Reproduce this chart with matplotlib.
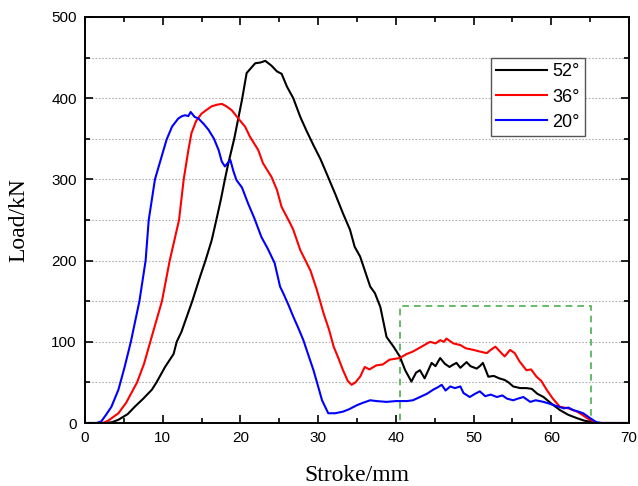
import numpy as np
import matplotlib.pyplot as plt
from matplotlib.patches import Rectangle
from matplotlib.ticker import MultipleLocator

# Load-stroke curves (stroke in mm, load in kN)
x52 = [0, 2.5, 3.5, 4.3, 5.5, 6.4, 7.5, 8.6, 9.2, 10.3, 11.4, 11.8, 12.4, 13.8, 14.8, 15.5, 16.3,
       16.9, 17.5, 18.0, 18.4, 19.2, 20.2, 20.8, 21.9, 22.6, 23.2, 24.0, 24.7, 25.3, 26.0, 26.8, 27.7,
       28.5, 29.4, 30.3, 31.1, 32.2, 33.2, 34.1, 34.7, 35.4, 36.7, 37.3, 38.0, 38.8, 39.7,
       40.5, 41.2, 42.0, 42.6, 43.1, 43.7, 44.6, 45.1, 45.7, 46.3, 46.9, 47.4, 47.8, 48.3,
       49.1, 49.6, 50.4, 50.8, 51.2, 51.9, 52.6, 53.3, 54.0, 54.5, 55.1, 56.0, 56.8, 57.5,
       58.2, 59.0, 60.0, 61.1, 62.2, 63.3, 64.2, 65.0, 65.8, 70]
y52 = [0, 0, 1, 4, 11, 20, 30, 41, 50, 69, 85, 100, 112, 150, 180, 200, 225,
       250, 276, 300, 318, 350, 398, 431, 443, 444, 446, 440, 433, 430, 414, 400, 377,
       360, 342, 325, 307, 282, 258, 238, 217, 205, 168, 160, 143, 106, 94,
       82, 65, 51, 62, 65, 55, 74, 70, 80, 73, 69, 72, 74, 68,
       75, 70, 67, 70, 74, 57, 58, 55, 53, 50, 45, 43, 43, 42,
       36, 32, 24, 16, 10, 6, 3, 1.5, 0, 0]

x36 = [0, 2.3, 3.0, 4.3, 5.3, 6.7, 7.6, 8.4, 9.9, 10.4, 10.9, 12.1, 12.7, 13.3, 13.7, 14.3,
       15.0, 15.7, 16.3, 17.0, 17.6, 18.2, 18.9, 19.9, 20.6, 21.2, 22.3, 22.9, 24.0, 24.7,
       25.3, 26.4, 26.8, 27.7, 29.0, 29.8, 30.7, 31.4, 32.0, 32.6, 33.2, 33.8, 34.3, 34.8,
       35.4, 36.0, 36.6, 37.5, 38.3, 39.2, 40.5, 41.4, 42.2, 43.3, 44.4, 45.1, 45.7, 46.2,
       46.5, 47.4, 48.3, 49.0, 50.0, 50.8, 51.7, 52.2, 52.8, 53.4, 54.0, 54.7, 55.3, 55.9,
       56.8, 57.4, 58.1, 58.7, 59.4, 60.2, 61.1, 62.2, 63.3, 64.0, 64.6, 65.4, 66.0, 70]
y36 = [0, 0, 3, 12, 25, 50, 73, 100, 150, 175, 200, 250, 300, 336, 357, 372,
       381, 386, 390, 392, 393, 390, 385, 373, 365, 353, 336, 320, 303, 287,
       266, 246, 238, 213, 188, 165, 135, 115, 94, 80, 65, 52, 47, 50,
       57, 69, 66, 71, 72, 78, 80, 85, 88, 94, 100, 98, 102, 100,
       104, 98, 96, 92, 90, 88, 86, 90, 94, 88, 82, 90, 86, 76,
       65, 66, 57, 52, 41, 30, 20, 18, 14, 10, 6, 2, 0, 0]

x20 = [0, 1.5, 2.1, 2.7, 3.4, 4.3, 5.1, 5.9, 7.0, 7.8, 8.2, 8.6, 9.0, 10.1, 10.5, 11.2,
       12.0, 12.5, 12.9, 13.3, 13.6, 14.1, 14.6, 15.3, 15.9, 16.6, 17.2, 17.6, 18.0, 18.7,
       19.1, 19.5, 20.2, 21.0, 21.8, 22.7, 23.5, 24.4, 25.1, 25.5, 26.2, 26.8, 27.4, 28.1,
       28.8, 29.4, 30.0, 30.5, 31.3, 32.2, 33.2, 34.0, 35.0, 35.8, 36.7, 37.5, 38.8, 40.0,
       41.4, 42.2, 43.1, 44.0, 44.8, 45.4, 45.9, 46.4, 47.0, 47.6, 48.3, 48.7, 49.5, 50.2,
       50.8, 51.5, 52.2, 53.0, 53.7, 54.3, 55.1, 55.7, 56.4, 57.3, 58.0, 59.0, 59.7, 60.3,
       61.0, 61.6, 62.2, 62.8, 63.5, 64.1, 65.0, 65.8, 66.5, 70]
y20 = [0, 0, 2, 10, 20, 41, 69, 100, 150, 200, 250, 275, 300, 336, 349, 365,
       375, 378, 379, 378, 383, 377, 375, 368, 361, 350, 336, 322, 316, 324,
       310, 299, 290, 270, 252, 229, 215, 197, 168, 160, 145, 131, 118, 102,
       82, 65, 45, 28, 12, 12, 14, 17, 22, 25, 28, 27, 26, 27,
       27, 28, 32, 36, 41, 44, 47, 40, 45, 43, 45, 37, 32, 36,
       39, 33, 35, 32, 34, 30, 28, 30, 32, 26, 28, 26, 24, 22,
       20, 18, 19, 16, 14, 12, 6, 1, 0, 0]

labels = ['52°', '36°', '20°']
colors = ['black', 'red', 'blue']

fig = plt.figure(figsize=(6.38, 4.86), dpi=100)
ax = fig.add_axes([85 / 638, 63 / 486, 544 / 638, 406 / 486])

for xs, ys, lab, c in zip([x52, x36, x20], [y52, y36, y20], labels, colors):
    ax.plot(xs, ys, color=c, lw=1.5, label=lab)

# dashed box around the tail region
ax.add_patch(Rectangle((40.5, 0), 24.6, 144.5, fill=False, ls=(0, (4, 3)),
                       ec='#4caf50', lw=1.2, zorder=1))

ax.set_xlim(0, 70)
ax.set_ylim(0, 500)
ax.xaxis.set_major_locator(MultipleLocator(10))
ax.xaxis.set_minor_locator(MultipleLocator(5))
ax.yaxis.set_major_locator(MultipleLocator(100))
ax.yaxis.set_minor_locator(MultipleLocator(50))
ax.tick_params(which='both', direction='in', top=True, right=True, width=1.2,
               labelsize=11, labelfontfamily='Liberation Sans', pad=6)
ax.tick_params(which='major', length=6)
ax.tick_params(which='minor', length=3.5)
ax.grid(True, axis='y', which='both', color='#b0b0b0', ls=(0, (1.5, 1.5)), lw=0.8)
ax.set_axisbelow(True)
for s in ax.spines.values():
    s.set_linewidth(1.4)

ax.set_xlabel('Stroke/mm', fontsize=17, family='Liberation Serif', labelpad=14)
ax.set_ylabel('Load/kN', fontsize=17, family='Liberation Serif', labelpad=16)

leg = ax.legend(loc='upper right', bbox_to_anchor=(0.919, 0.899), borderaxespad=0,
                fancybox=False, edgecolor='#555555', framealpha=1, handlelength=2.8,
                labelspacing=0.45, handletextpad=0.3, borderpad=0.3,
                prop={'family': 'Liberation Sans', 'size': 13})
leg.get_frame().set_linewidth(1.0)

fig.savefig('out.png', dpi=100)
